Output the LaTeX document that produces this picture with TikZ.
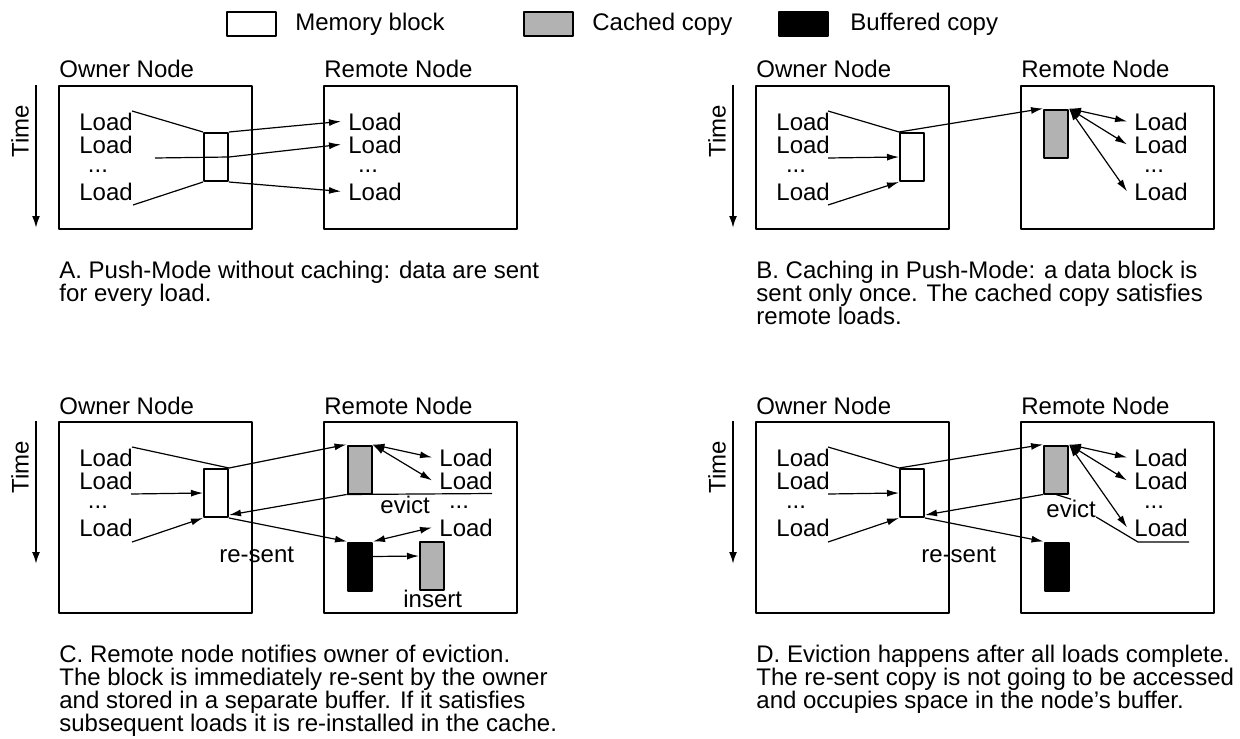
\documentclass[tikz,border=0pt]{standalone}
\usepackage{fontspec}
\setmainfont{Liberation Sans}
\usetikzlibrary{arrows.meta}
\tikzset{
	txt/.style={inner sep=0pt,anchor=base west,font=\fontsize{12pt}{14pt}\selectfont},
	load/.style={txt,inner xsep=3.5pt},
	blk/.style={draw,line width=1pt,minimum width=12pt,minimum height=24pt,inner sep=0pt},
	mem/.style={blk,fill=white},
	cache/.style={blk,fill=gray!60},
	buf/.style={blk,fill=black},
	legbox/.style={minimum width=24.5pt,minimum height=12pt},
	nodebox/.style={line width=1pt},
	ln/.style={line width=.6pt},
	con/.style={ln,-{Latex[length=6pt,width=3.5pt]}},
	bi/.style={ln,{Latex[length=6pt,width=3.5pt]}-{Latex[length=6pt,width=3.5pt]}},
	timearr/.style={line width=1pt,-{Latex[length=6pt,width=4pt]}}
}
\begin{document}
\begin{tikzpicture}[x=0.5pt,y=-0.5pt,line join=round]
	\useasboundingbox (0,0) rectangle (1240,738);
	%==legend
	\node[mem,legbox] (lgM) at (251,24) {};
	\node[txt] (lgMt) at (295,31) {Memory block};
	\node[cache,legbox] (lgC) at (548.5,24) {};
	\node[txt] (lgCt) at (592,31) {Cached copy};
	\node[buf,legbox] (lgB) at (803.5,24.5) {};
	\node[txt] (lgBt) at (850,31) {Buffered copy};
	%==A: push mode, no caching
	\begin{scope}[shift={(59,86)}]
		\draw[nodebox] (0,0) rectangle (193,143);
		\draw[nodebox] (265,0) rectangle (458,143);
		\node[txt] (aOwn) at (0,-8) {Owner Node};
		\node[txt] (aRem) at (265,-8) {Remote Node};
		\draw[timearr] (-23,-1) coordinate(aT1) -- (-23,142) coordinate(aT2);
		\node[txt,rotate=90,anchor=center] (aTime) at (-39,45) {Time};
		\foreach \n/\y in {1/44,2/67,4/114}{
			\node[load] (aO\n) at (13,\y) {Load};
			\node[load] (aR\n) at (282,\y) {Load};}
		\node[txt,anchor=base] (aOd) at (39,86) {...};
		\node[txt,anchor=base] (aRd) at (309,86) {...};
		\node[mem] (aM) at (157,71) {};
		\draw[ln] (73,25) coordinate(aS1) -- (aM.north west);
		\draw[ln] (96,72) coordinate(aS2) -- (aM.east);
		\draw[ln] (74,119) coordinate(aS3) -- (aM.south west);
		\draw[con] (aM.north east) -- (aR1.west);
		\draw[con] (aM.east) -- (aR2.west);
		\draw[con] (aM.south east) -- (aR4.west);
	\end{scope}
	%==B: caching in push mode
	\begin{scope}[shift={(756,86)}]
		\draw[nodebox] (0,0) rectangle (193,143);
		\draw[nodebox] (265,0) rectangle (458,143);
		\node[txt] (bOwn) at (0,-8) {Owner Node};
		\node[txt] (bRem) at (265,-8) {Remote Node};
		\draw[timearr] (-23,-1) coordinate(bT1) -- (-23,142) coordinate(bT2);
		\node[txt,rotate=90,anchor=center] (bTime) at (-39,45) {Time};
		\foreach \n/\y in {1/44,2/67,4/114}{
			\node[load] (bO\n) at (13,\y) {Load};
			\node[load] (bR\n) at (371,\y) {Load};}
		\node[txt,anchor=base] (bOd) at (40,86) {...};
		\node[txt,anchor=base] (bRd) at (398,86) {...};
		\node[mem] (bM) at (156,71) {};
		\draw[ln] (72,25) coordinate(bS1) -- (bM.north west);
		\draw[con] (72,72) coordinate(bS2) -- (bM.west);
		\draw[con] (72,119) coordinate(bS3) -- (bM.south west);
		\node[cache] (bC) at (300,47.5) {};
		\draw[con] (bM.north west) -- (bC.north west);
		\foreach \n in {1,2,4} \draw[bi] (bC.north east) -- (bR\n.west);
	\end{scope}
	%==C: eviction, block re-sent and re-inserted
	\begin{scope}[shift={(59,422)}]
		\draw[nodebox] (0,0) rectangle (193,191);
		\draw[nodebox] (265,0) rectangle (458,191);
		\node[txt] (cOwn) at (0,-8) {Owner Node};
		\node[txt] (cRem) at (265,-8) {Remote Node};
		\draw[timearr] (-23,-1) coordinate(cT1) -- (-23,142) coordinate(cT2);
		\node[txt,rotate=90,anchor=center] (cTime) at (-39,45) {Time};
		\foreach \n/\y in {1/44,2/67,4/114}{
			\node[load] (cO\n) at (13,\y) {Load};
			\node[load] (cR\n) at (373,\y) {Load};}
		\node[txt,anchor=base] (cOd) at (39,86) {...};
		\node[txt,anchor=base] (cRd) at (400,86) {...};
		\node[mem] (cM) at (157,71) {};
		\draw[ln] (73,25) coordinate(cS1) -- (cM.north east);
		\draw[con] (72,72) coordinate(cS2) -- (cM.west);
		\draw[con] (73,120) coordinate(cS3) -- (cM.south west);
		\node[cache] (cC) at (300.5,47.5) {};
		\draw[con] (cM.north east) -- (cC.north west);
		\foreach \n in {1,2} \draw[bi] (cC.north east) -- (cR\n.west);
		\draw[ln] (cC.south west) -- (433,71.5) coordinate(cE);
		\node[txt] (cEv) at (321,91) {evict};
		\draw[con] (cC.south west) -- ([yshift=1.5pt]cM.south east);
		\node[buf] (cB) at (301,144.5) {};
		\draw[con] (cM.south east) -- (cB.north west);
		\node[txt] (cRs) at (160,140) {re-sent};
		\draw[bi] (cB.north east) -- (cR4.west);
		\node[cache] (cC2) at (373,144) {};
		\draw[con] ([yshift=5pt]cB.east) -- ([yshift=5pt]cC2.west);
		\node[txt] (cIn) at (344,185) {insert};
	\end{scope}
	%==D: eviction after all loads
	\begin{scope}[shift={(756,422)}]
		\draw[nodebox] (0,0) rectangle (193,191);
		\draw[nodebox] (265,0) rectangle (458,191);
		\node[txt] (dOwn) at (0,-8) {Owner Node};
		\node[txt] (dRem) at (265,-8) {Remote Node};
		\draw[timearr] (-23,-1) coordinate(dT1) -- (-23,142) coordinate(dT2);
		\node[txt,rotate=90,anchor=center] (dTime) at (-39,45) {Time};
		\foreach \n/\y in {1/44,2/67,4/114}{
			\node[load] (dO\n) at (13,\y) {Load};
			\node[load] (dR\n) at (371,\y) {Load};}
		\node[txt,anchor=base] (dOd) at (40,86) {...};
		\node[txt,anchor=base] (dRd) at (398,86) {...};
		\node[mem] (dM) at (156,71) {};
		\draw[ln] (72,25) coordinate(dS1) -- (dM.north west);
		\draw[con] (72,72) coordinate(dS2) -- (dM.west);
		\draw[con] (72,120) coordinate(dS3) -- (dM.south west);
		\node[cache] (dC) at (300,47.5) {};
		\draw[con] (dM.north west) -- (dC.north west);
		\foreach \n in {1,2,4} \draw[bi] (dC.north east) -- (dR\n.west);
		\node[txt] (dEv) at (290,95) {evict};
		\draw[ln] (dC.south) -- (dEv.north);
		\draw[ln] (dEv.base east) -- (382,120) coordinate(dE1) -- (433,120) coordinate(dE2);
		\draw[con] (dC.south west) -- ([yshift=1.5pt]dM.south east);
		\node[buf] (dB) at (300.5,144.5) {};
		\draw[con] (dM.south east) -- (dB.north west);
		\node[txt] (dRs) at (165,140) {re-sent};
	\end{scope}
	%==captions
	\foreach \t [count=\i from 0] in {A. Push-Mode without caching: data are sent,for every load.}
		\node[txt] (capA\i) at (59,{278+23*\i}) {\t};
	\foreach \t [count=\i from 0] in {B. Caching in Push-Mode: a data block is,sent only once. The cached copy satisfies,remote loads.}
		\node[txt] (capB\i) at (756,{278+23*\i}) {\t};
	\foreach \t [count=\i from 0] in {C. Remote node notifies owner of eviction.,The block is immediately re-sent by the owner,and stored in a separate buffer. If it satisfies,subsequent loads it is re-installed in the cache.}
		\node[txt] (capC\i) at (59,{662+23*\i}) {\t};
	\foreach \t [count=\i from 0] in {D. Eviction happens after all loads complete.,The re-sent copy is not going to be accessed,and occupies space in the node’s buffer.}
		\node[txt] (capD\i) at (756,{662+23*\i}) {\t};
\end{tikzpicture}
\end{document}
